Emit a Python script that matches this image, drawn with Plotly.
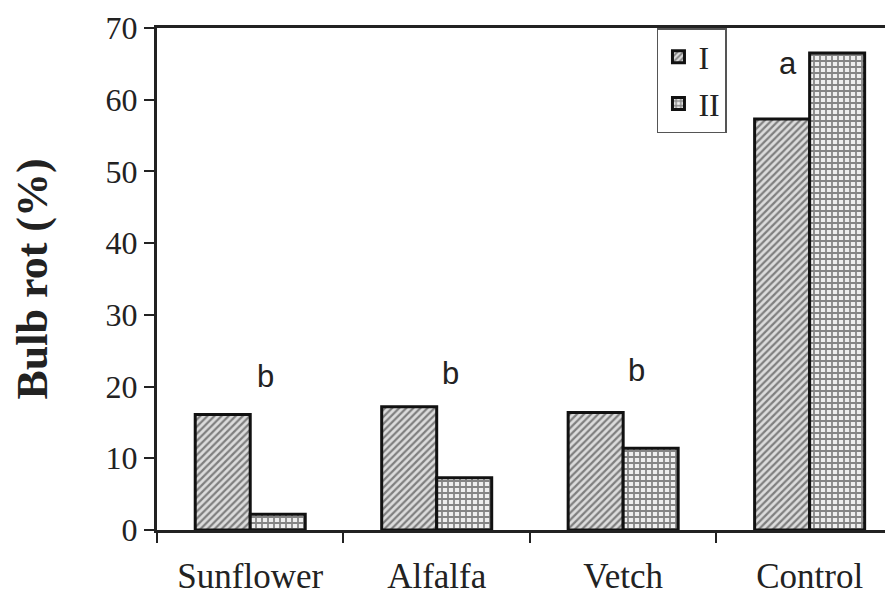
import plotly.graph_objects as go

categories = ["Sunflower", "Alfalfa", "Vetch", "Control"]
series_I = [16.1, 17.2, 16.4, 57.3]
series_II = [2.2, 7.3, 11.4, 66.5]
letters = ["b", "b", "b", "a"]
letter_y = [21.4, 21.8, 22.3, 65.0]
letter_dx = [15, 14, 13, -22]

fig = go.Figure()
fig.add_trace(go.Bar(
    x=categories, y=series_I, name="I", legendgroup="I",
    marker=dict(color="#d0d0d0", line=dict(color="#111", width=3),
                pattern=dict(shape="/", fgcolor="#222", bgcolor="#dcdcdc", size=5, solidity=0.45)),
))
fig.add_trace(go.Bar(
    x=categories, y=series_II, name="II", legendgroup="II",
    marker=dict(color="#d0d0d0", line=dict(color="#111", width=3),
                pattern=dict(shape="+", fgcolor="#1a1a1a", bgcolor="#eeeeee", size=6, solidity=0.5)),
))

for c, t, yv, dx in zip(categories, letters, letter_y, letter_dx):
    fig.add_annotation(x=c, y=yv, text=t, showarrow=False, xshift=dx,
                       font=dict(family="Liberation Sans", size=31, color="#222"))

fig.update_layout(
    width=893, height=601,
    margin=dict(l=149, r=0, t=20, b=79),
    paper_bgcolor="white", plot_bgcolor="white",
    barmode="group", bargap=0.41, bargroupgap=0,
    font=dict(family="Liberation Serif", color="#222"),
    showlegend=True,
    legend=dict(x=0.672, y=1.0, xanchor="left", yanchor="top",
                bordercolor="#555", borderwidth=1.5, bgcolor="white",
                font=dict(family="Liberation Serif", size=32),
                tracegroupgap=2, traceorder="grouped"),
)
fig.update_xaxes(
    range=[-0.5, 3.49], showline=True, linecolor="#222", linewidth=3, mirror=True,
    ticks="outside", tickson="boundaries", ticklen=10, tickcolor="#222", tickwidth=1.5,
    tickfont=dict(family="Liberation Serif", size=35, color="#222"), ticklabelstandoff=13,
    showgrid=False, automargin=False,
)
fig.update_yaxes(
    range=[0, 70], dtick=10, showline=True, linecolor="#222", linewidth=3, mirror=False,
    ticks="outside", ticklen=10, tickcolor="#222", tickwidth=1.5,
    tickfont=dict(family="Liberation Serif", size=32, color="#222"),
    ticklabeloverflow="allow",
    showgrid=False, zeroline=False, automargin=False,
    title=dict(text="<b>Bulb rot (%)</b>", font=dict(family="Liberation Serif", size=44, color="#222"), standoff=52),
)

fig.write_html("out.html")
